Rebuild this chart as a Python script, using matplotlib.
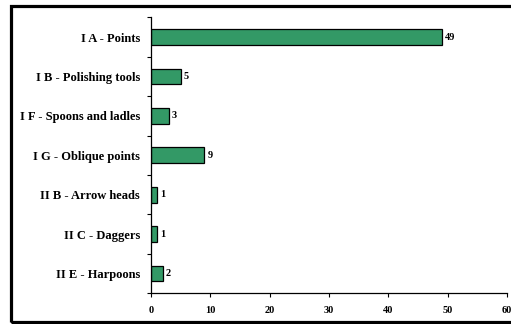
import matplotlib
matplotlib.use("Agg")
import matplotlib.pyplot as plt
from matplotlib.patches import Rectangle

categorias = ["I A - Points", "I B - Polishing tools", "I F - Spoons and ladles",
              "I G - Oblique points", "II B - Arrow heads", "II C - Daggers",
              "II E - Harpoons"]
valores = [49, 5, 3, 9, 1, 1, 2]
xticks = [0, 10, 20, 30, 40, 50, 60]

plt.rcParams['font.family'] = ['Liberation Serif', 'DejaVu Serif']
plt.rcParams['font.weight'] = 'bold'

fig = plt.figure(figsize=(5.11, 3.24), dpi=100)
ax = fig.add_axes([151/511, 1 - 293.3/324, (507 - 151)/511, (293.3 - 17.3)/324])

pos = list(range(len(categorias)))
ax.barh(pos, valores, height=0.4, color="#339966", edgecolor="black", linewidth=0.9)
for p, v in zip(pos, valores):
    ax.text(v + 0.5, p, str(v), va="center", ha="left", fontsize=7.5, fontweight="bold")

ax.set_xlim(0, 60)
ax.set_ylim(len(categorias) - 0.5, -0.5)
ax.set_xticks(xticks)
ax.set_xticklabels([str(t) for t in xticks], fontsize=7.5, fontweight="bold")
ax.set_yticks([i - 0.5 for i in range(len(categorias) + 1)])
ax.set_yticklabels([])
ax.set_yticks(pos, minor=True)
ax.set_yticklabels(categorias, minor=True, fontsize=9, fontweight="bold")
ax.tick_params(axis="y", which="minor", length=0, pad=8)
ax.tick_params(axis="y", which="major", length=3, width=0.8, direction="out")
ax.tick_params(axis="x", length=3, width=0.8, direction="out", pad=6)

for s in ["top", "right"]:
    ax.spines[s].set_visible(False)
for s in ["left", "bottom"]:
    ax.spines[s].set_linewidth(0.9)

# marco negro alrededor del grafico
marco = Rectangle((10.5/511, 1 - 321.5/324), 1.05, (321.5 - 5.5)/324,
                  transform=fig.transFigure, fill=False, edgecolor="black",
                  linewidth=2.3, clip_on=False)
fig.add_artist(marco)

fig.savefig("out.png", dpi=100)
